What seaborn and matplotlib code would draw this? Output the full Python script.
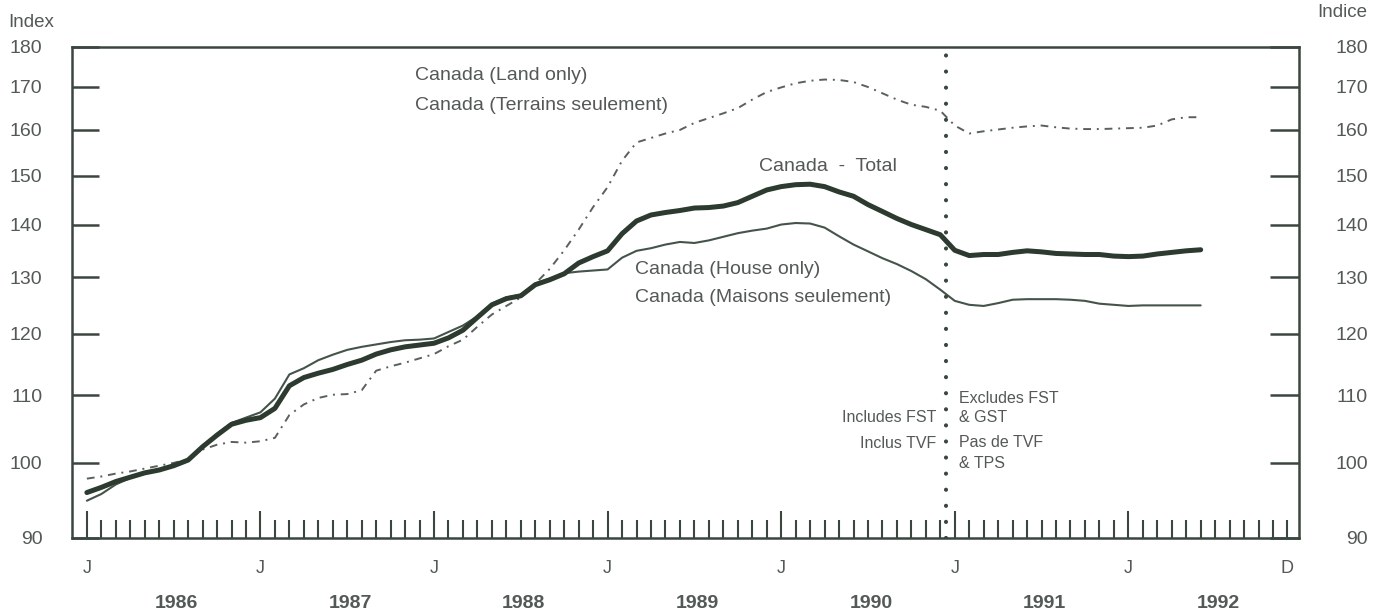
import numpy as np
import pandas as pd
import matplotlib
matplotlib.use("Agg")
import matplotlib.pyplot as plt
import matplotlib.ticker as mticker
import matplotlib.transforms as mtransforms
import seaborn as sns

# ---------------- data (monthly, Jan 1986 .. Jun 1992) ----------------
months = list(range(78))

total = [95.9, 96.6, 97.4, 98.0, 98.6, 99.0, 99.6, 100.4, 102.3, 104.0,
         105.6, 106.2, 106.6, 108.0, 111.5, 112.8, 113.5, 114.1, 114.9, 115.6,
         116.6, 117.3, 117.8, 118.1, 118.4, 119.3, 120.6, 122.8, 125.0, 126.1,
         126.6, 128.6, 129.5, 130.6, 132.6, 133.8, 134.9, 138.2, 140.7, 141.9,
         142.4, 142.8, 143.3, 143.4, 143.7, 144.4, 145.7, 147.0, 147.7, 148.1,
         148.2, 147.7, 146.6, 145.7, 144.0, 142.6, 141.2, 140.0, 139.0, 138.0,
         135.0, 134.0, 134.2, 134.2, 134.6, 134.9, 134.7, 134.4, 134.3, 134.2,
         134.2, 133.9, 133.8, 133.9, 134.3, 134.6, 134.9, 135.1]

house = [94.8, 95.7, 97.0, 97.9, 98.5, 99.0, 99.6, 100.4, 102.3, 104.2,
         105.8, 106.6, 107.4, 109.5, 113.3, 114.3, 115.6, 116.5, 117.3, 117.8,
         118.2, 118.6, 118.9, 119.0, 119.2, 120.3, 121.4, 123.0, 125.2, 126.3,
         126.8, 128.8, 129.7, 130.7, 131.0, 131.2, 131.4, 133.6, 134.9, 135.4,
         136.1, 136.6, 136.4, 136.9, 137.6, 138.3, 138.8, 139.2, 140.0, 140.3,
         140.2, 139.4, 137.7, 136.1, 134.8, 133.5, 132.4, 131.1, 129.6, 127.7,
         125.7, 125.0, 124.8, 125.3, 125.9, 126.0, 126.0, 126.0, 125.9, 125.7,
         125.2, 125.0, 124.8, 124.9, 124.9, 124.9, 124.9, 124.9]

land = [97.8, 98.1, 98.5, 98.8, 99.2, 99.6, 100.0, 100.5, 101.9, 102.6,
        103.0, 102.9, 103.1, 103.6, 107.0, 108.6, 109.6, 110.1, 110.2, 110.8,
        113.9, 114.6, 115.2, 115.9, 116.6, 117.9, 119.0, 121.2, 123.3, 124.8,
        126.3, 128.8, 131.5, 135.0, 139.0, 143.5, 147.6, 153.2, 157.2, 158.2,
        159.2, 160.0, 161.6, 162.7, 163.8, 165.0, 167.0, 168.8, 169.9, 170.9,
        171.5, 171.8, 171.7, 171.2, 170.0, 168.5, 167.0, 165.8, 165.3, 164.4,
        161.0, 159.2, 159.7, 160.1, 160.5, 160.8, 161.0, 160.6, 160.3, 160.2,
        160.2, 160.3, 160.4, 160.5, 161.0, 162.4, 162.9, 162.9]

years = ["1986", "1987", "1988", "1989", "1990", "1991", "1992"]
y_ticks = [90, 100, 110, 120, 130, 140, 150, 160, 170, 180]
month_letters_major = ["J", "J", "J", "J", "J", "J", "J"]
last_month_label = "D"

# ---------------- style ----------------
sns.set_theme(style="white")
plt.rcParams["font.family"] = ["Liberation Sans", "DejaVu Sans"]

LINE_DARK = "#2c3a30"
LINE_MID = "#45544a"
LINE_LAND = "#59615b"
AXIS_COL = "#3a463e"
TEXT_COL = "#535955"

df = pd.DataFrame({
    "month": months * 3,
    "value": total + house + land,
    "series": ["Total"] * len(months) + ["House"] * len(months) + ["Land"] * len(months),
})

fig = plt.figure(figsize=(13.84, 6.16), dpi=100)
ax = fig.add_axes([0.0520, 0.1274, 0.8866, 0.7971])

sns.lineplot(data=df[df.series == "Land"], x="month", y="value", ax=ax,
             color=LINE_LAND, lw=1.4, linestyle=(0, (4, 3, 1, 3)))
sns.lineplot(data=df[df.series == "House"], x="month", y="value", ax=ax,
             color=LINE_MID, lw=1.5, solid_joinstyle="round")
sns.lineplot(data=df[df.series == "Total"], x="month", y="value", ax=ax,
             color=LINE_DARK, lw=3.6, solid_capstyle="round", solid_joinstyle="round")

ax.set_yscale("log")
ax.set_ylim(90, 180)
ax.set_xlim(-1.03, 83.8)
ax.set_xlabel("")
ax.set_ylabel("")

# y ticks (left)
ax.yaxis.set_major_locator(mticker.FixedLocator(y_ticks))
ax.yaxis.set_major_formatter(mticker.FixedFormatter([str(v) for v in y_ticks]))
ax.yaxis.set_minor_locator(mticker.NullLocator())
ax.tick_params(axis="y", which="major", direction="in", length=19.5, width=1.8,
               pad=21.3, labelsize=14, color=AXIS_COL, labelcolor=TEXT_COL, left=True)

# x ticks
major_pos = [0, 12, 24, 36, 48, 60, 72]
minor_pos = [m for m in range(84) if m not in major_pos]
ax.xaxis.set_major_locator(mticker.FixedLocator(major_pos))
ax.xaxis.set_major_formatter(mticker.FixedFormatter(month_letters_major))
ax.xaxis.set_minor_locator(mticker.FixedLocator(minor_pos))
ax.xaxis.set_minor_formatter(mticker.FixedFormatter(
    [last_month_label if m == 83 else "" for m in minor_pos]))
ax.tick_params(axis="x", which="major", direction="in", length=19.5, width=1.5,
               pad=16, labelsize=13, color=AXIS_COL, labelcolor=TEXT_COL, bottom=True)
ax.tick_params(axis="x", which="minor", direction="in", length=13, width=1.5,
               pad=16, labelsize=13, color=AXIS_COL, labelcolor=TEXT_COL, bottom=True)

for sp in ax.spines.values():
    sp.set_visible(True)
    sp.set_color(AXIS_COL)
    sp.set_linewidth(1.8)

# right axis
ax2 = ax.twinx()
ax2.set_yscale("log")
ax2.set_ylim(90, 180)
ax2.set_yticks(y_ticks, [str(v) for v in y_ticks], ha="right")
ax2.yaxis.set_minor_locator(mticker.NullLocator())
ax2.tick_params(axis="y", which="major", direction="in", length=21, width=1.8,
                pad=49.5, labelsize=14, color=AXIS_COL, labelcolor=TEXT_COL, right=True)
for sp in ax2.spines.values():
    sp.set_visible(False)
ax2.grid(False)
ax.grid(False)

# GST break (dotted vertical line)
ax.axvline(59.4, color=AXIS_COL, lw=3.0, linestyle=(0, (0.01, 3.85)),
           dash_capstyle="round")

# series labels
lbl_kw = dict(fontsize=14, color=TEXT_COL)
ax.text(22.7, 172.7, "Canada (Land only)", ha="left", va="center", **lbl_kw)
ax.text(22.7, 165.7, "Canada (Terrains seulement)", ha="left", va="center", **lbl_kw)
ax.text(51.2, 151.9, "Canada  -  Total", ha="center", va="center", **lbl_kw)
ax.text(37.9, 131.4, "Canada (House only)", ha="left", va="center", **lbl_kw)
ax.text(37.9, 126.3, "Canada (Maisons seulement)", ha="left", va="center", **lbl_kw)

# tax notes
note_kw = dict(fontsize=11.5, color=TEXT_COL, va="center")
ax.text(58.7, 106.6, "Includes FST", ha="right", **note_kw)
ax.text(58.7, 102.8, "Inclus TVF", ha="right", **note_kw)
ax.text(60.3, 109.5, "Excludes FST", ha="left", **note_kw)
ax.text(60.3, 106.6, "& GST", ha="left", **note_kw)
ax.text(60.3, 102.9, "Pas de TVF", ha="left", **note_kw)
ax.text(60.3, 99.9, "& TPS", ha="left", **note_kw)

# year labels
trans = mtransforms.blended_transform_factory(ax.transData, fig.transFigure)
for i, yr in enumerate(years):
    ax.text(6.2 + 12 * i, 0.021, yr, transform=trans, ha="center", va="center",
            fontsize=14, fontweight="bold", color=TEXT_COL)

# axis titles
fig.text(0.0058, 0.9640, "Index", ha="left", va="center", fontsize=13.5, color=TEXT_COL)
fig.text(0.9877, 0.9790, "Indice", ha="right", va="center", fontsize=13.5, color=TEXT_COL)

fig.savefig("out.png", dpi=100, facecolor="white")
